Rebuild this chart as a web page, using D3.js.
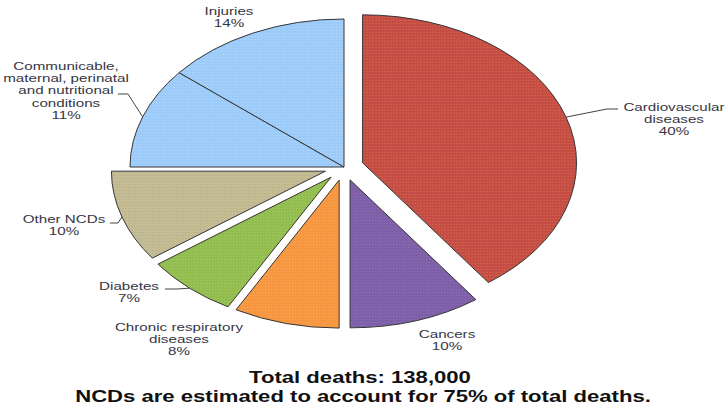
<!DOCTYPE html>
<html>
<head>
<meta charset="utf-8">
<script src="https://cdn.jsdelivr.net/npm/d3@7/dist/d3.min.js"></script>
<style>
  body { margin: 0; background: #fff; }
  svg { display: block; }
  .lbl { font-family: "Liberation Sans", Arial, sans-serif; font-size: 11px; fill: #363644; }
  .title { font-family: "Liberation Sans", Arial, sans-serif; font-size: 17px; font-weight: bold; fill: #111; }
</style>
</head>
<body>
<svg width="726" height="412"></svg>
<script>
// data
var causes = ["Cardiovascular diseases", "Cancers", "Chronic respiratory diseases", "Diabetes",
              "Other NCDs", "Communicable, maternal, perinatal and nutritional conditions", "Injuries"];
var shares = [40, 10, 8, 7, 10, 11, 14];
var labelLines = [
  ["Cardiovascular", "diseases", "40%"],
  ["Cancers", "10%"],
  ["Chronic respiratory", "diseases", "8%"],
  ["Diabetes", "7%"],
  ["Other NCDs", "10%"],
  ["Communicable,", "maternal, perinatal", "and nutritional", "conditions", "11%"],
  ["Injuries", "14%"]
];
var titleLines = ["Total deaths: 138,000", "NCDs are estimated to account for 75% of total deaths."];

// styling / layout
var fills = ["#c44c47", "#7c5fa6", "#f7963f", "#92bd4e", "#c5bd96", "#9ccbf9", "#9ccbf9"];
var dots  = ["#e3803e", "#9a7ec6", "#fcb774", "#b4d678", "#a9a27c", "#c2e0ff", "#c2e0ff"];
var notExploded = ["Communicable, maternal, perinatal and nutritional conditions", "Injuries"];
// label anchor (center x, first baseline) and optional leader elbow
var labelPos = [
  {x: 674, y: 111, leader: [[607, 109], [618, 109]]},
  {x: 447, y: 338},
  {x: 179, y: 331},
  {x: 129, y: 290, leader: [[177, 289], [165, 289]]},
  {x: 64,  y: 223, leader: [[118, 223], [110, 223]]},
  {x: 66,  y: 70,  leader: [[128, 94], [118, 94]]},
  {x: 229, y: 15}
];

var cx = 344, cy = 167, r = 148, sx = 214 / 148, explode = 13.5;
var textStretch = 1.38;

var svg = d3.select("svg");
var defs = svg.append("defs");

fills.forEach(function(c, i) {
  var p = defs.append("pattern")
    .attr("id", "pat" + i)
    .attr("patternUnits", "userSpaceOnUse")
    .attr("width", 3 / sx).attr("height", 3);
  p.append("rect").attr("width", 3 / sx).attr("height", 3).attr("fill", c);
  p.append("rect").attr("x", 1 / sx).attr("y", 1).attr("width", 1 / sx).attr("height", 1)
    .attr("fill", dots[i]).attr("opacity", 0.8);
});

var pie = d3.pie().sort(null).value(function(d) { return d; });
var arcs = pie(shares);
var arc = d3.arc().innerRadius(0).outerRadius(r);

var pieG = svg.append("g")
  .attr("transform", "translate(" + cx + "," + cy + ") scale(" + sx + ",1)");

function offsetOf(d, i) {
  if (notExploded.indexOf(causes[i]) >= 0) return [0, 0];
  var mid = (d.startAngle + d.endAngle) / 2;
  return [explode * Math.sin(mid), -explode * Math.cos(mid)];
}

pieG.selectAll("path.slice")
  .data(arcs)
  .enter().append("path")
  .attr("class", "slice")
  .attr("transform", function(d, i) { var o = offsetOf(d, i); return "translate(" + o[0] + "," + o[1] + ")"; })
  .attr("d", arc)
  .attr("fill", function(d, i) { return "url(#pat" + i + ")"; })
  .attr("stroke", "#363636")
  .attr("stroke-width", 1)
  .attr("vector-effect", "non-scaling-stroke");

// leader lines: from the slice edge at mid-angle to the label
arcs.forEach(function(d, i) {
  var lp = labelPos[i];
  if (!lp.leader) return;
  var o = offsetOf(d, i);
  var mid = (d.startAngle + d.endAngle) / 2;
  var ex = cx + sx * (o[0] + r * Math.sin(mid));
  var ey = cy + o[1] - r * Math.cos(mid);
  var pts = [[ex, ey]].concat(lp.leader);
  svg.append("path")
    .attr("d", d3.line()(pts))
    .attr("fill", "none")
    .attr("stroke", "#444")
    .attr("stroke-width", 1);
});

// labels
labelLines.forEach(function(lines, i) {
  var lp = labelPos[i];
  lines.forEach(function(t, k) {
    svg.append("text")
      .attr("class", "lbl")
      .attr("text-anchor", "middle")
      .attr("transform", "translate(" + lp.x + "," + (lp.y + k * 12.2) + ") scale(" + textStretch + ",1)")
      .text(t);
  });
});

// title
titleLines.forEach(function(t, k) {
  svg.append("text")
    .attr("class", "title")
    .attr("text-anchor", "middle")
    .attr("transform", "translate(" + (360 + k * 3) + "," + (383 + k * 19) + ") scale(1.3,1)")
    .text(t);
});
</script>
</body>
</html>
